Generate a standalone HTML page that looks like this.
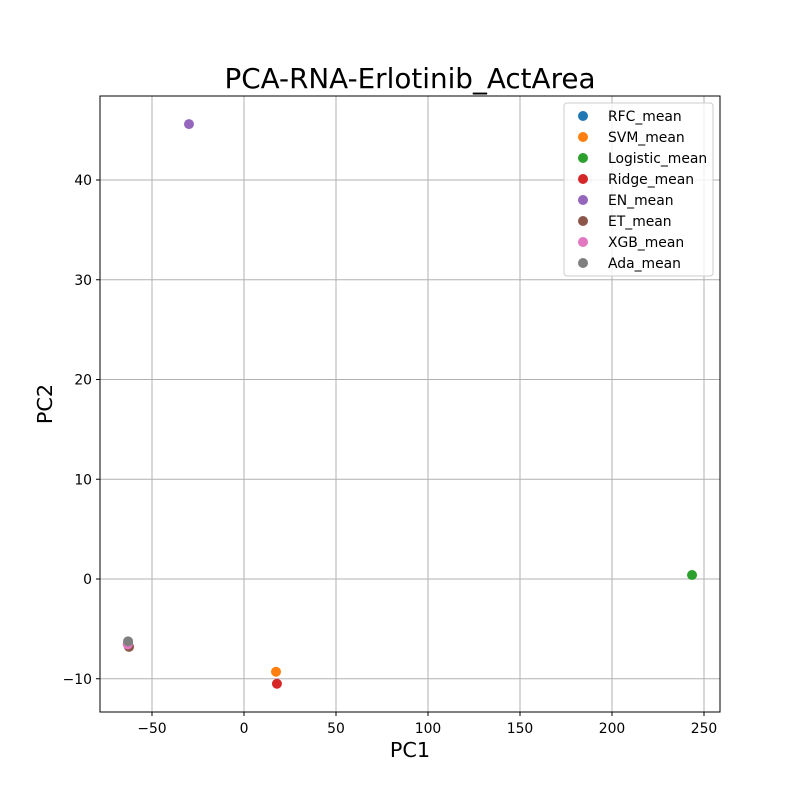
<!DOCTYPE html>
<html><head><meta charset="utf-8"><style>
body{margin:0;background:#fff;}
svg text{font-family:"DejaVu Sans","Liberation Sans",sans-serif;}
</style></head><body>
<svg id="chart" width="800" height="800" xmlns="http://www.w3.org/2000/svg">
<rect width="800" height="800" fill="#fff"/>
<text x="410" y="88" font-size="27.8" text-anchor="middle">PCA-RNA-Erlotinib_ActArea</text>
<g id="grid"></g>
<g id="pts"></g>
<rect x="100" y="96" width="620" height="616" fill="none" stroke="#000" stroke-width="1"/>
<text x="410" y="757" font-size="20.8" text-anchor="middle">PC1</text>
<text x="52" y="404" font-size="20.8" text-anchor="middle" transform="rotate(-90 52 404)">PC2</text>
<g id="legend"></g>
</svg>
<script>
const series=["RFC_mean","SVM_mean","Logistic_mean","Ridge_mean","EN_mean","ET_mean","XGB_mean","Ada_mean"];
const colors=["#1f77b4","#ff7f0e","#2ca02c","#d62728","#9467bd","#8c564b","#e377c2","#7f7f7f"];
const pc1=[-63,17.4,243.5,17.9,-29.9,-62.5,-63.2,-63];
const pc2=[-6.5,-9.3,0.4,-10.5,45.6,-6.8,-6.55,-6.25];
const xTicks=[-50,0,50,100,150,200,250];
const yTicks=[-10,0,10,20,30,40];
const NS="http://www.w3.org/2000/svg";
const X=v=>244+v*1.84;
const Y=v=>579-v*9.975;
function mk(t,a,p){const e=document.createElementNS(NS,t);for(const k in a)e.setAttribute(k,a[k]);p.appendChild(e);return e;}
const g=document.getElementById('grid');
xTicks.forEach(v=>{const x=X(v);
const l=mk('line',{x1:x,x2:x,y1:96,y2:712,stroke:'#b0b0b0','stroke-width':1},g);


mk('line',{x1:x,x2:x,y1:712,y2:716,stroke:'#000'},g);
const t=mk('text',{x:x,y:733,'font-size':13.9,'text-anchor':'middle'},g);t.textContent=v<0?'\u2212'+(-v):v;

});
yTicks.forEach(v=>{const y=Y(v);
const l=mk('line',{x1:100,x2:720,y1:y,y2:y,stroke:'#b0b0b0','stroke-width':1},g);


mk('line',{x1:96,x2:100,y1:y,y2:y,stroke:'#000'},g);
const t=mk('text',{x:92,y:y+5,'font-size':13.9,'text-anchor':'end'},g);t.textContent=v<0?'\u2212'+(-v):v;

});
const p=document.getElementById('pts');
series.forEach((s,i)=>{const c=mk('circle',{cx:X(pc1[i]),cy:Y(pc2[i]),r:5,fill:colors[i]},p);

});
const lg=document.getElementById('legend');
const box=mk('rect',{x:564,y:103,width:149,height:173,fill:'#fff','fill-opacity':0.8,stroke:'#ccc',rx:3},lg);


series.forEach((s,i)=>{const y=116+i*21;
mk('circle',{cx:583,cy:y,r:5,fill:colors[i]},lg);
const t=mk('text',{x:608,y:y+5,'font-size':13.9},lg);t.textContent=s;

});
</script>
</body></html>
